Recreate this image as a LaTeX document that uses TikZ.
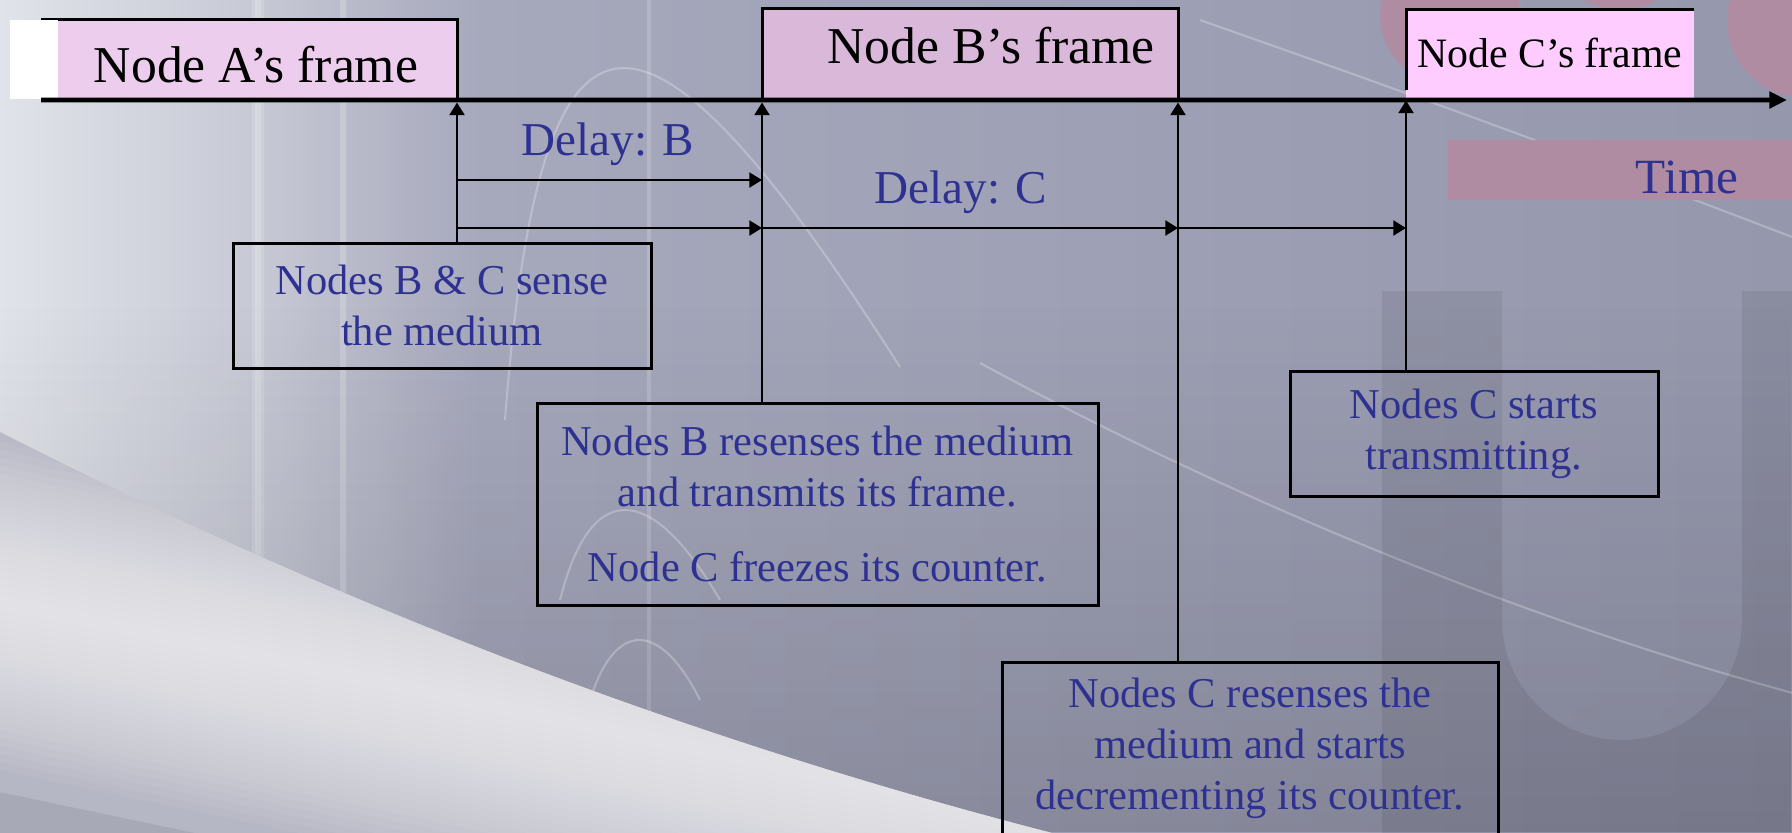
\documentclass[tikz,border=0pt]{standalone}
\usepackage{fontspec}
\setmainfont{Liberation Serif}
\usepackage{tikz}
\usetikzlibrary{arrows.meta, positioning, calc, fadings}
\definecolor{noteblue}{HTML}{2E3192}
\definecolor{framepink}{HTML}{EDCDED}
\definecolor{framemauve}{HTML}{DAB8DA}
\definecolor{framerose}{HTML}{FFCCFF}
\definecolor{bgpale}{HTML}{E1E3EA}
\definecolor{bgleft}{HTML}{C6C8D4}
\definecolor{bgmid}{HTML}{A6A8BC}
\definecolor{bgright}{HTML}{9597AD}
\definecolor{swooshtop}{HTML}{B6B7C4}
\definecolor{swooshlow}{HTML}{A5A6B3}
\definecolor{logored}{HTML}{AF8CA1}

\tikzset{
  note/.style={draw, line width=0.85pt, align=center, text=noteblue, outer sep=0pt,
    font=\fontsize{12.1}{14.5}\selectfont, inner sep=0pt},
  tick/.style={-{Triangle[length=3.6pt,width=4.2pt]}, line width=0.8pt},
  framelabel/.style={anchor=base, inner sep=0pt, font=\fontsize{14.7}{17}\selectfont},
  delaylabel/.style={anchor=base, inner sep=0pt, text=noteblue, font=\fontsize{13.4}{16}\selectfont},
  streak/.style={white, opacity=0.25, line width=0.6pt},
}

\begin{document}
\begin{tikzpicture}[x=0.1mm, y=-0.1mm]
    \useasboundingbox (0,0) rectangle (1792,832);
    \clip (0,0) rectangle (1792,832);
    \shade[left color=bgpale, right color=bgleft] (0,0) rectangle (262,832);
    \shade[left color=bgleft, right color=bgmid] (262,0) rectangle (480,832);
    \shade[left color=bgmid, right color=bgright] (480,0) rectangle (1792,832);
    \foreach \s in {0,3,6}
      \fill[white, opacity=0.15] ({252+\s},0) rectangle ({264-\s},832);
    \fill[white, opacity=0.2] (340,0) rectangle (346,832);
    \fill[white, opacity=0.18] (647,0) rectangle (651,832);
    \fill[black, opacity=0.14, path fading=north] (0,300) rectangle (1792,832);
    \draw[streak] (505,420) .. controls (540,-40) and (640,-40) .. (900,367);
    \draw[streak] (560,600) .. controls (590,480) and (650,480) .. (720,600);
    \draw[streak] (590,700) .. controls (615,620) and (660,620) .. (700,700);
    \draw[streak] (1200,20) .. controls (1350,73) and (1500,125) .. (1800,240);
    \draw[streak] (980,363) .. controls (1150,455) and (1450,600) .. (1800,695);
    \begin{scope}
      \clip (0,432) .. controls (300,585) and (650,730) .. (1060,835) -- (0,835) -- cycle;
      \fill[swooshtop] (0,400) rectangle (1100,840);
      \fill[swooshlow, opacity=0.8] (-10,790) -- (1100,1023) -- (0,1033) -- cycle;
      \foreach \w in {8,16,...,168}
        \fill[white, opacity=0.055] (-10,{600-\w}) -- (1100,{833-\w}) -- (1100,{833+\w}) -- (-10,{600+\w}) -- cycle;
    \end{scope}
    \fill[black, opacity=0.07] (1382,291) -- (1382,850) -- (1800,850) -- (1800,291) -- (1742,291) -- (1742,620)
      arc[start angle=0, end angle=180, radius=120] -- (1502,291) -- cycle;
    \fill[logored] (1450,15) circle[radius=70];
    \fill[logored] (1620,-60) circle[radius=70];
    \fill[logored] (1805,20) circle[radius=78];
    \fill[logored] (1448,140) rectangle (1792,200);

    \node[fill=framepink, minimum width=41.6mm, minimum height=8.1mm, inner sep=0pt, outer sep=0pt] (frameA) at (249,59.5) {};
    \draw[line width=0.85pt] (frameA.north west) -- (frameA.north east) -- (frameA.south east);
    \fill[white] (10,20) rectangle (58,99);
    \node[framelabel] (labelA) at (256,82) {Node A’s frame};

    \node[draw, line width=0.85pt, fill=framemauve, minimum width=41.6mm, minimum height=9.2mm, inner sep=0pt, outer sep=0pt] (frameB) at (970,54) {};
    \node[framelabel] (labelB) at (991,63) {Node B’s frame};

    \node[fill=framerose, minimum width=28.8mm, minimum height=8.9mm, inner sep=0pt, outer sep=0pt] (frameC) at (1550,53.5) {};
    \draw[line width=0.85pt] ($(frameC.south west)+(0,-8)$) -- (frameC.north west) -- (frameC.north east);
    \node[framelabel, font=\fontsize{11.9}{14}\selectfont] (labelC) at (1550,67) {Node C’s frame};

    \coordinate (tEnd) at (1787,100);
    \draw[line width=1.4pt, -{Triangle[length=5pt,width=4.6pt]}] (frameA.south west) -- (tEnd);

    \node[delaylabel] (delayB) at (608,155) {Delay: B};
    \node[delaylabel] (delayC) at (961,203) {Delay: C};
    \node[delaylabel, font=\fontsize{14}{16}\selectfont] (timeLabel) at (1687,193) {Time};

    \node[note, minimum width=41.8mm, minimum height=12.5mm] (sense) at (442,305.5) {Nodes B \& C sense\\the medium};
    \node[note, minimum width=56.1mm, minimum height=20.2mm] (resenseB) at (817.5,504) {Nodes B resenses the medium\\and transmits its frame.\\[7pt]Node C freezes its counter.};
    \node[note, minimum width=36.8mm, minimum height=12.5mm] (startC) at (1474,433.5) {Nodes C starts\\transmitting.};
    \node[note, minimum width=49.6mm, minimum height=17.3mm] (resenseC) at (1250,748.5) {Nodes C resenses the\\medium and starts\\decrementing its counter.};

    \coordinate (rowB) at (0,180);
    \coordinate (rowC) at (0,228);
    \draw[tick, shorten >=0.7pt] (sense.north -| frameA.south east) -- (frameA.south east);
    \draw[tick, shorten >=0.7pt] (resenseB.north -| frameB.south west) -- (frameB.south west);
    \draw[tick, shorten >=0.7pt] (resenseC.north -| frameB.south east) -- (frameB.south east);
    \draw[tick, shorten >=0.7pt] (startC.north -| frameC.south west) -- (frameC.south west);
    \draw[tick] (frameA.south east |- rowB) -- (frameB.south west |- rowB);
    \draw[tick] (frameA.south east |- rowC) -- (frameB.south west |- rowC);
    \draw[tick] (frameB.south west |- rowC) -- (frameB.south east |- rowC);
    \draw[tick] (frameB.south east |- rowC) -- (frameC.south west |- rowC);
\end{tikzpicture}
\end{document}
